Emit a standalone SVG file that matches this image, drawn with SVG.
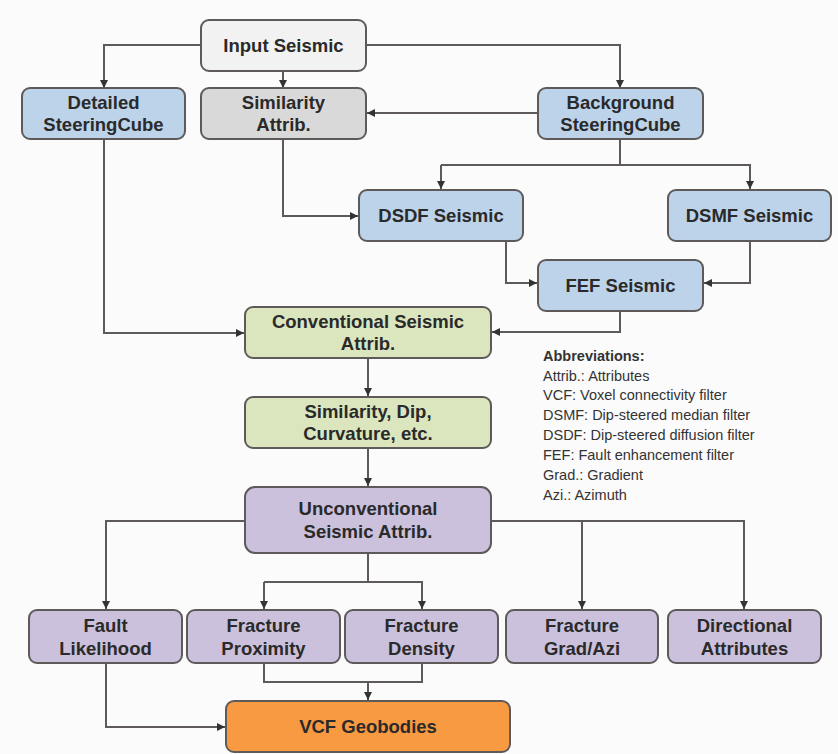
<svg xmlns="http://www.w3.org/2000/svg" width="838" height="754" viewBox="0 0 838 754">
<style>
.n rect{stroke:#5e5a5a;stroke-width:2}
.n text{font-family:"Liberation Sans",Arial,sans-serif;font-weight:bold;font-size:18.5px;fill:#2a2a2a;text-anchor:middle}
.gray1{fill:#f2f2f2}.gray2{fill:#d9d9d9}.blue{fill:#bcd3ea}.green{fill:#dbe6bf}.purple{fill:#cbc1dc}.orange{fill:#f79a42}
#connectors path{fill:none;stroke:#5e5a5a;stroke-width:2;marker-end:url(#ah)}
#connectors path.nm{marker-end:none}
.ab{font-family:"Liberation Sans",Arial,sans-serif;font-size:14.5px;fill:#333}
</style>
<defs>
<marker id="ah" viewBox="0 0 10 10" refX="10" refY="5" markerWidth="4" markerHeight="4" orient="auto" markerUnits="strokeWidth">
<path d="M0,0 L10,5 L0,10 z" fill="#333"/>
</marker>
</defs>
<rect width="838" height="754" fill="#fbfbfb"/>
<g id="connectors">
<path d="M201,45 H104 V88"/>
<path d="M283,71 V88"/>
<path d="M366,45 H620 V88"/>
<path d="M538,113 H367"/>
<path d="M283,139 V216 H358"/>
<path class="nm" d="M620,139 V165"/>
<path d="M441,165 H750 V189"/>
<path d="M441,165 V189"/>
<path d="M506,241 V283 H537"/>
<path d="M750,241 V283 H704"/>
<path d="M620,311 V332 H492"/>
<path d="M104,139 V333 H244"/>
<path d="M368,358 V396"/>
<path d="M368,448 V486"/>
<path d="M245,521 H106 V609"/>
<path d="M491,521 H744 V609"/>
<path d="M582,521 V609"/>
<path class="nm" d="M368,553 V582"/>
<path d="M264,582 H422 V609"/>
<path d="M264,582 V609"/>
<path class="nm" d="M264,663 V682 H422 V663"/>
<path d="M368,682 V700"/>
<path d="M106,663 V727 H225"/>
</g>
<g id="input-seismic" class="n"><rect class="gray1" x="201" y="20" width="165" height="51" rx="8"/><text x="283.5" y="52">Input Seismic</text></g>
<g id="detailed-steeringcube" class="n"><rect class="blue" x="22" y="88" width="163" height="51" rx="8"/><text x="103.5" y="109">Detailed</text><text x="103.5" y="131">SteeringCube</text></g>
<g id="similarity-attrib" class="n"><rect class="gray2" x="201" y="88" width="165" height="51" rx="8"/><text x="283.5" y="109">Similarity</text><text x="283.5" y="131">Attrib.</text></g>
<g id="background-steeringcube" class="n"><rect class="blue" x="538" y="88" width="165" height="51" rx="8"/><text x="620.5" y="109">Background</text><text x="620.5" y="131">SteeringCube</text></g>
<g id="dsdf-seismic" class="n"><rect class="blue" x="359" y="190" width="164" height="51" rx="8"/><text x="441" y="222">DSDF Seismic</text></g>
<g id="dsmf-seismic" class="n"><rect class="blue" x="668" y="190" width="163" height="51" rx="8"/><text x="749.5" y="222">DSMF Seismic</text></g>
<g id="fef-seismic" class="n"><rect class="blue" x="538" y="260" width="165" height="51" rx="8"/><text x="620.5" y="292">FEF Seismic</text></g>
<g id="conventional-seismic-attrib" class="n"><rect class="green" x="245" y="307" width="246" height="51" rx="8"/><text x="368" y="328">Conventional Seismic</text><text x="368" y="350">Attrib.</text></g>
<g id="similarity-dip-curvature" class="n"><rect class="green" x="245" y="397" width="246" height="51" rx="8"/><text x="368" y="418">Similarity, Dip,</text><text x="368" y="440">Curvature, etc.</text></g>
<g id="unconventional-seismic-attrib" class="n"><rect class="purple" x="245" y="487" width="246" height="66" rx="10"/><text x="368" y="515">Unconventional</text><text x="368" y="538">Seismic Attrib.</text></g>
<g id="fault-likelihood" class="n"><rect class="purple" x="29" y="610" width="153" height="53" rx="8"/><text x="105.5" y="632">Fault</text><text x="105.5" y="655">Likelihood</text></g>
<g id="fracture-proximity" class="n"><rect class="purple" x="187" y="610" width="153" height="53" rx="8"/><text x="263.5" y="632">Fracture</text><text x="263.5" y="655">Proximity</text></g>
<g id="fracture-density" class="n"><rect class="purple" x="345" y="610" width="153" height="53" rx="8"/><text x="421.5" y="632">Fracture</text><text x="421.5" y="655">Density</text></g>
<g id="fracture-grad-azi" class="n"><rect class="purple" x="506" y="610" width="152" height="53" rx="8"/><text x="582" y="632">Fracture</text><text x="582" y="655">Grad/Azi</text></g>
<g id="directional-attributes" class="n"><rect class="purple" x="668" y="610" width="153" height="53" rx="8"/><text x="744.5" y="632">Directional</text><text x="744.5" y="655">Attributes</text></g>
<g id="vcf-geobodies" class="n"><rect class="orange" x="226" y="701" width="284" height="51" rx="8"/><text x="368" y="733">VCF Geobodies</text></g>
<g id="abbreviations">
<text class="ab" x="543" y="361" font-weight="bold">Abbreviations:</text>
<text class="ab" x="543" y="381">Attrib.: Attributes</text>
<text class="ab" x="543" y="400">VCF: Voxel connectivity filter</text>
<text class="ab" x="543" y="420">DSMF: Dip-steered median filter</text>
<text class="ab" x="543" y="440">DSDF: Dip-steered diffusion filter</text>
<text class="ab" x="543" y="460">FEF: Fault enhancement filter</text>
<text class="ab" x="543" y="480">Grad.: Gradient</text>
<text class="ab" x="543" y="500">Azi.: Azimuth</text>
</g>
</svg>
